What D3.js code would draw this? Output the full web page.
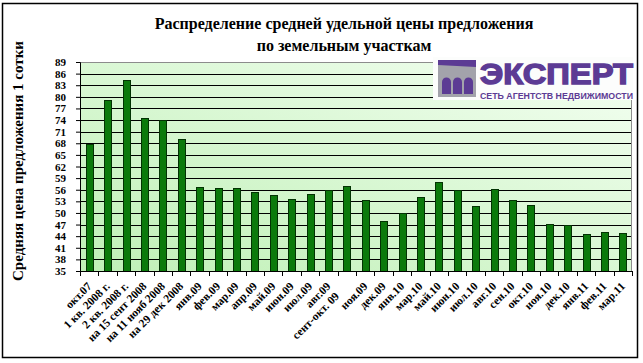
<!DOCTYPE html>
<html>
<head>
<meta charset="utf-8">
<script src="https://cdn.jsdelivr.net/npm/d3@7"></script>
<style>
  body { margin: 0; background: #fff; }
  svg { display: block; }
</style>
</head>
<body>
<svg id="chart"></svg>
<script>
// data
const categories = [
  "окт.07", "1 кв. 2008 г.", "2 кв. 2008 г.", "на 15 сент 2008", "на 11 нояб 2008",
  "на 29 дек 2008", "янв.09", "фев.09", "мар.09", "апр.09", "май.09", "июн.09",
  "июл.09", "авг.09", "сент-окт. 09", "ноя.09", "дек.09", "янв.10", "мар.10",
  "май.10", "июн.10", "июл.10", "авг.10", "сен.10", "окт.10", "ноя.10", "дек.10",
  "янв.11", "фев.11", "мар.11"
];
const prices = [
  67.8, 79.2, 84.3, 74.5, 74.0, 69.1, 56.7, 56.4, 56.4, 55.5, 54.6, 53.6,
  54.8, 55.8, 56.9, 53.3, 47.9, 49.9, 54.2, 58.0, 56.0, 51.8, 56.2, 53.3,
  52.1, 47.2, 46.9, 44.6, 45.1, 44.8
];
const yTicks = d3.range(35, 90, 3);
const titleLines = ["Распределение средней удельной цены предложения", "по земельным участкам"];
const yTitle = "Средняя цена предложения 1 сотки";

// layout
const W = 643, H = 363;
const margin = {top: 62, right: 11, bottom: 92, left: 80};
const width = W - margin.left - margin.right;
const height = H - margin.top - margin.bottom;
const serif = "'Liberation Serif', 'Times New Roman', serif";
const sans = "'Liberation Sans', Arial, sans-serif";
const purple = "#5c3b94";

const svg = d3.select('#chart')
    .attr('width', W)
    .attr('height', H);

// outer frame
svg.append('rect')
    .attr('x', 2.5).attr('y', 3.5)
    .attr('width', 635).attr('height', 354)
    .attr('fill', '#fff')
    .attr('stroke', '#000')
    .attr('stroke-width', 1.5);

const defs = svg.append('defs');
const grad = defs.append('linearGradient')
    .attr('id', 'bg')
    .attr('x1', '0%').attr('y1', '100%')
    .attr('x2', '100%').attr('y2', '0%');
grad.append('stop').attr('offset', '0%').attr('stop-color', '#bff0b6');
grad.append('stop').attr('offset', '100%').attr('stop-color', '#f4fff2');

const g = svg.append('g')
    .attr('transform', 'translate(' + margin.left + ',' + margin.top + ')');

const x = d3.scaleBand()
    .domain(categories)
    .range([0, width])
    .paddingInner(0.62)
    .paddingOuter(0.31);

const y = d3.scaleLinear()
    .domain([35, 89])
    .range([height, 0]);

// plot background
g.append('rect')
    .attr('width', width)
    .attr('height', height)
    .attr('fill', 'url(#bg)');

// gridlines
g.append('g')
    .selectAll('line')
    .data(yTicks.slice(1, -1))
    .enter()
    .append('line')
    .attr('x1', 0).attr('x2', width)
    .attr('y1', d => Math.round(y(d)) + 0.5)
    .attr('y2', d => Math.round(y(d)) + 0.5)
    .attr('stroke', '#000');

// plot border (top / right grey)
g.append('path')
    .attr('d', 'M0,' + (Math.round(y(89)) + 0.5) + 'H' + (width - 0.5) + 'V' + height)
    .attr('fill', 'none')
    .attr('stroke', '#8c8c8c');

// bars
g.selectAll('.bar')
    .data(prices)
    .enter()
    .append('rect')
    .attr('class', 'bar')
    .attr('x', (d, i) => Math.round(x(categories[i])) + 0.5)
    .attr('y', d => Math.round(y(d)) + 0.5)
    .attr('width', Math.round(x.bandwidth()))
    .attr('height', d => height - Math.round(y(d)))
    .attr('fill', '#0b7a0b')
    .attr('stroke', '#033303')
    .attr('stroke-width', 1);

// y axis
const yAxis = g.append('g')
    .call(d3.axisLeft(y).tickValues(yTicks).tickSize(4).tickPadding(10));
yAxis.select('.domain').attr('stroke', '#000');
yAxis.selectAll('text')
    .attr('font-family', serif)
    .attr('font-weight', 'bold')
    .attr('font-size', 11)
    .attr('fill', '#000');

// x axis: ticks at category boundaries
const xAxis = g.append('g')
    .attr('transform', 'translate(0,' + height + ')');
xAxis.append('line')
    .attr('x1', 0).attr('x2', width)
    .attr('y1', 0.5).attr('y2', 0.5)
    .attr('stroke', '#000');
xAxis.selectAll('.tick')
    .data(d3.range(categories.length + 1))
    .enter()
    .append('line')
    .attr('x1', i => Math.round(i * width / categories.length) + 0.5)
    .attr('x2', i => Math.round(i * width / categories.length) + 0.5)
    .attr('y1', 0).attr('y2', 5)
    .attr('stroke', '#000');
xAxis.selectAll('.lbl')
    .data(categories)
    .enter()
    .append('text')
    .attr('transform', d => 'translate(' + (x(d) + x.bandwidth() / 2 + 3) + ',16)rotate(-45)')
    .attr('dx', d => d === "сент-окт. 09" ? -14 : 0)
    .attr('text-anchor', 'end')
    .attr('font-family', serif)
    .attr('font-weight', 'bold')
    .attr('font-size', 11.5)
    .text(d => d);

// title
svg.selectAll('.title')
    .data(titleLines)
    .enter()
    .append('text')
    .attr('x', 344)
    .attr('y', (d, i) => 29 + i * 22)
    .attr('text-anchor', 'middle')
    .attr('font-family', serif)
    .attr('font-weight', 'bold')
    .attr('font-size', 16)
    .text(d => d);

// y title
svg.append('text')
    .attr('transform', 'translate(23,161)rotate(-90)')
    .attr('text-anchor', 'middle')
    .attr('font-family', serif)
    .attr('font-weight', 'bold')
    .attr('font-size', 15)
    .text(yTitle);

// logo
const logo = svg.append('g').attr('transform', 'translate(433,57)');
logo.append('rect')
    .attr('width', 200).attr('height', 43)
    .attr('fill', '#fcfdfc');
logo.append('rect')
    .attr('x', 5).attr('y', 3)
    .attr('width', 38).attr('height', 37)
    .attr('fill', '#a3a3ab');
logo.append('path')
    .attr('d', 'M5,3H43V10L5,8Z')
    .attr('fill', purple);
[0, 1, 2].forEach(function(k) {
  const px = 9 + k * 11;
  logo.append('path')
      .attr('d', 'M' + px + ',37V25a4.5,4.5 0 0 1 9,0V37Z')
      .attr('fill', purple);
});
logo.append('text')
    .attr('x', 47).attr('y', 27)
    .attr('font-family', sans)
    .attr('font-weight', 'bold')
    .attr('font-size', 29)
    .attr('fill', purple)
    .attr('stroke', purple)
    .attr('stroke-width', 1.4)
    .attr('textLength', 153)
    .attr('lengthAdjust', 'spacingAndGlyphs')
    .text('ЭКСПЕРТ');
logo.append('text')
    .attr('x', 47).attr('y', 42)
    .attr('font-family', sans)
    .attr('font-weight', 'bold')
    .attr('font-size', 8.5)
    .attr('fill', purple)
    .attr('textLength', 153)
    .attr('lengthAdjust', 'spacingAndGlyphs')
    .text('СЕТЬ АГЕНТСТВ НЕДВИЖИМОСТИ');
</script>
</body>
</html>
